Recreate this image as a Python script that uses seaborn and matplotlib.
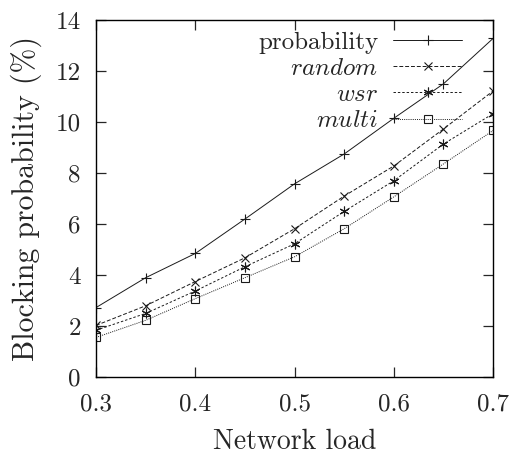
import numpy as np
import pandas as pd
import matplotlib
matplotlib.use("Agg")
import matplotlib.pyplot as plt
import seaborn as sns

# ── Data ──────────────────────────────────────────────────────────────────────
load = [0.3, 0.35, 0.4, 0.45, 0.5, 0.55, 0.6, 0.65, 0.7]
probability = [2.73, 3.9, 4.85, 6.2, 7.58, 8.75, 10.15, 11.5, 13.28]
random_ = [2.03, 2.8, 3.75, 4.68, 5.82, 7.1, 8.28, 9.73, 11.22]
wsr = [1.84, 2.5, 3.38, 4.33, 5.23, 6.5, 7.7, 9.14, 10.33]
multi = [1.56, 2.23, 3.08, 3.9, 4.72, 5.82, 7.07, 8.36, 9.67]

labels = ["probability", r"$random$", r"$wsr$", r"$multi$"]
xticks = [0.3, 0.4, 0.5, 0.6, 0.7]
yticks = [0, 2, 4, 6, 8, 10, 12, 14]

# ── Style ─────────────────────────────────────────────────────────────────────
sns.set_style("ticks")
plt.rcParams["font.family"] = ["cmr10", "DejaVu Serif"]
plt.rcParams["mathtext.fontset"] = "cm"
plt.rcParams["axes.formatter.use_mathtext"] = True
plt.rcParams["axes.unicode_minus"] = False

fig = plt.figure(figsize=(5.11, 4.55), dpi=100)
ax = fig.add_axes([0.188, 0.171, 0.777, 0.785])

styles = [
    dict(marker="+", linestyle="-", markersize=7),
    dict(marker="x", linestyle=(0, (4, 2)), markersize=6),
    dict(marker=(6, 2, 0), linestyle=(0, (2.5, 2)), markersize=7),
    dict(marker="s", linestyle=(0, (1, 1.2)), markersize=5.5, fillstyle="none"),
]
series = [probability, random_, wsr, multi]

for vals, lab, st in zip(series, labels, styles):
    df = pd.DataFrame({"load": load, "value": vals})
    sns.lineplot(data=df, x="load", y="value", ax=ax, label=lab,
                 color="0.1", linewidth=0.7, markeredgewidth=0.8,
                 markeredgecolor="0.1", **st)

ax.set_xlim(0.3, 0.7)
ax.set_ylim(0, 14)
ax.set_xticks(xticks)
ax.set_yticks(yticks)
ax.set_xticklabels([f"{t:.1f}" for t in xticks])
ax.set_yticklabels([str(t) for t in yticks])
ax.tick_params(direction="in", length=7, width=0.9, labelsize=18,
               top=True, right=True)
ax.tick_params(axis="x", pad=12)
ax.tick_params(axis="y", pad=11)
for sp in ax.spines.values():
    sp.set_visible(True)
    sp.set_linewidth(1.0)
    sp.set_color("black")

ax.set_xlabel("Network load", fontsize=20, labelpad=9)
ax.set_ylabel("Blocking probability (%)", fontsize=21.5, labelpad=10)

leg = ax.legend(loc="upper right", bbox_to_anchor=(0.934, 0.983),
                frameon=False, markerfirst=False,
                fontsize=18, handlelength=2.75, handletextpad=0.6,
                labelspacing=0.15, borderaxespad=0.0, borderpad=0.2)
for t in leg.get_texts():
    t.set_ha("right")

fig.savefig("out.png", dpi=100)
